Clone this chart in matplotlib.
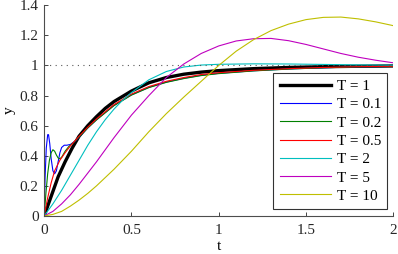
import numpy as np
import matplotlib.pyplot as plt

plt.rcParams['font.family'] = ['Liberation Serif', 'DejaVu Serif']

# step responses, one (t, y) list per T
t_T1 = [0, 0.04, 0.08, 0.12, 0.16, 0.2, 0.25, 0.3, 0.35, 0.4, 0.5, 0.6, 0.7, 0.8, 0.9, 1.0, 1.2, 1.4, 1.6, 1.8, 2.0]
y_T1 = [0, 0.13, 0.26, 0.36, 0.45, 0.53, 0.60, 0.66, 0.715, 0.76, 0.83, 0.885, 0.92, 0.942, 0.956, 0.966, 0.979, 0.987, 0.992, 0.995, 0.997]

t_T01 = [0, 0.005, 0.012, 0.02, 0.025, 0.032, 0.04, 0.05, 0.06, 0.07, 0.08, 0.09, 0.1, 0.115, 0.13, 0.15, 0.18, 0.2, 0.25, 0.3, 0.4, 0.5, 0.6, 0.7, 0.8, 0.9, 1.0, 1.2, 1.4, 1.6, 1.8, 2.0]
y_T01 = [0, 0.25, 0.45, 0.54, 0.54, 0.48, 0.38, 0.30, 0.28, 0.30, 0.36, 0.42, 0.455, 0.47, 0.47, 0.475, 0.50, 0.525, 0.585, 0.64, 0.735, 0.805, 0.855, 0.89, 0.915, 0.935, 0.948, 0.965, 0.977, 0.985, 0.991, 0.994]

t_T02 = [0, 0.01, 0.02, 0.03, 0.04, 0.05, 0.06, 0.07, 0.08, 0.09, 0.1, 0.12, 0.14, 0.17, 0.2, 0.25, 0.3, 0.4, 0.5, 0.6, 0.7, 0.8, 0.9, 1.0, 1.2, 1.4, 1.6, 1.8, 2.0]
y_T02 = [0, 0.15, 0.28, 0.37, 0.42, 0.44, 0.43, 0.405, 0.385, 0.38, 0.39, 0.43, 0.46, 0.49, 0.525, 0.585, 0.638, 0.733, 0.803, 0.853, 0.888, 0.913, 0.933, 0.946, 0.964, 0.976, 0.985, 0.991, 0.994]

t_T05 = [0, 0.02, 0.04, 0.06, 0.09, 0.12, 0.15, 0.2, 0.25, 0.3, 0.4, 0.5, 0.6, 0.7, 0.8, 0.9, 1.0, 1.2, 1.4, 1.6, 1.8, 2.0]
y_T05 = [0, 0.12, 0.22, 0.30, 0.37, 0.42, 0.465, 0.53, 0.59, 0.645, 0.74, 0.81, 0.86, 0.895, 0.92, 0.94, 0.952, 0.968, 0.979, 0.987, 0.992, 0.995]

t_T2 = [0, 0.05, 0.1, 0.15, 0.2, 0.25, 0.3, 0.35, 0.4, 0.45, 0.5, 0.6, 0.7, 0.8, 0.9, 1.0, 1.2, 1.4, 1.6, 1.8, 2.0]
y_T2 = [0, 0.08, 0.17, 0.27, 0.37, 0.47, 0.56, 0.64, 0.71, 0.77, 0.82, 0.905, 0.96, 0.99, 1.003, 1.008, 1.011, 1.01, 1.007, 1.004, 1.002]

t_T5 = [0, 0.05, 0.1, 0.15, 0.2, 0.25, 0.3, 0.4, 0.5, 0.6, 0.7, 0.8, 0.9, 1.0, 1.1, 1.2, 1.3, 1.4, 1.5, 1.6, 1.7, 1.8, 1.9, 2.0]
y_T5 = [0, 0.03, 0.08, 0.14, 0.21, 0.285, 0.36, 0.52, 0.67, 0.80, 0.92, 1.01, 1.08, 1.13, 1.163, 1.178, 1.18, 1.165, 1.14, 1.11, 1.08, 1.055, 1.035, 1.018]

t_T10 = [0, 0.05, 0.1, 0.15, 0.2, 0.25, 0.3, 0.4, 0.5, 0.6, 0.7, 0.8, 0.9, 1.0, 1.1, 1.2, 1.3, 1.4, 1.5, 1.6, 1.7, 1.8, 1.9, 2.0]
y_T10 = [0, 0.01, 0.03, 0.065, 0.105, 0.15, 0.2, 0.31, 0.43, 0.56, 0.68, 0.79, 0.895, 1.0, 1.095, 1.172, 1.232, 1.275, 1.305, 1.32, 1.322, 1.31, 1.29, 1.265]

labels = ['T = 1', 'T = 0.1', 'T = 0.2', 'T = 0.5', 'T = 2', 'T = 5', 'T = 10']
series = [(t_T1, y_T1), (t_T01, y_T01), (t_T02, y_T02), (t_T05, y_T05),
          (t_T2, y_T2), (t_T5, y_T5), (t_T10, y_T10)]
colors = ['k', (0, 0, 1), (0, 0.5, 0), (1, 0, 0), (0, 0.75, 0.75), (0.75, 0, 0.75), (0.75, 0.75, 0)]
widths = [2.4, 0.8, 0.8, 0.8, 0.8, 0.8, 0.8]

fig = plt.figure(figsize=(3.98, 2.54), dpi=100)
ax = fig.add_axes([0.111, 0.150, 0.877, 0.829])

for (t, y), c, lw, lab in zip(series, colors, widths, labels):
    ax.plot(t, y, color=c, lw=lw, label=lab)

ax.plot([0, 2], [1, 1], color='0.35', lw=0.8, ls=(0, (1, 4)))

ax.set_xlim(0, 2)
ax.set_ylim(0, 1.4)
ax.set_xticks([0, 0.5, 1, 1.5, 2])
ax.set_xticklabels(['0', '0.5', '1', '1.5', '2'])
ax.set_yticks([0, 0.2, 0.4, 0.6, 0.8, 1, 1.2, 1.4])
ax.set_yticklabels(['0', '0.2', '0.4', '0.6', '0.8', '1', '1.2', '1.4'])
ax.tick_params(direction='in', length=3, labelsize=11, colors='0.15', width=0.6, pad=4)
ax.tick_params(axis='x', pad=6)
for s in ['top', 'right']:
    ax.spines[s].set_visible(False)
for s in ['left', 'bottom']:
    ax.spines[s].set_color('0.3')
    ax.spines[s].set_linewidth(0.8)

ax.set_xlabel('t', fontsize=11, labelpad=2)
ax.set_ylabel('y', fontsize=11, labelpad=3)

leg = ax.legend(loc='lower right', bbox_to_anchor=(0.983, 0.033), borderaxespad=0,
                fontsize=11, frameon=True, fancybox=False, edgecolor='k',
                handlelength=3.4, labelspacing=0.3, borderpad=0.4, handletextpad=0.35)
leg.get_frame().set_linewidth(0.8)

fig.savefig('out.png', dpi=100)
